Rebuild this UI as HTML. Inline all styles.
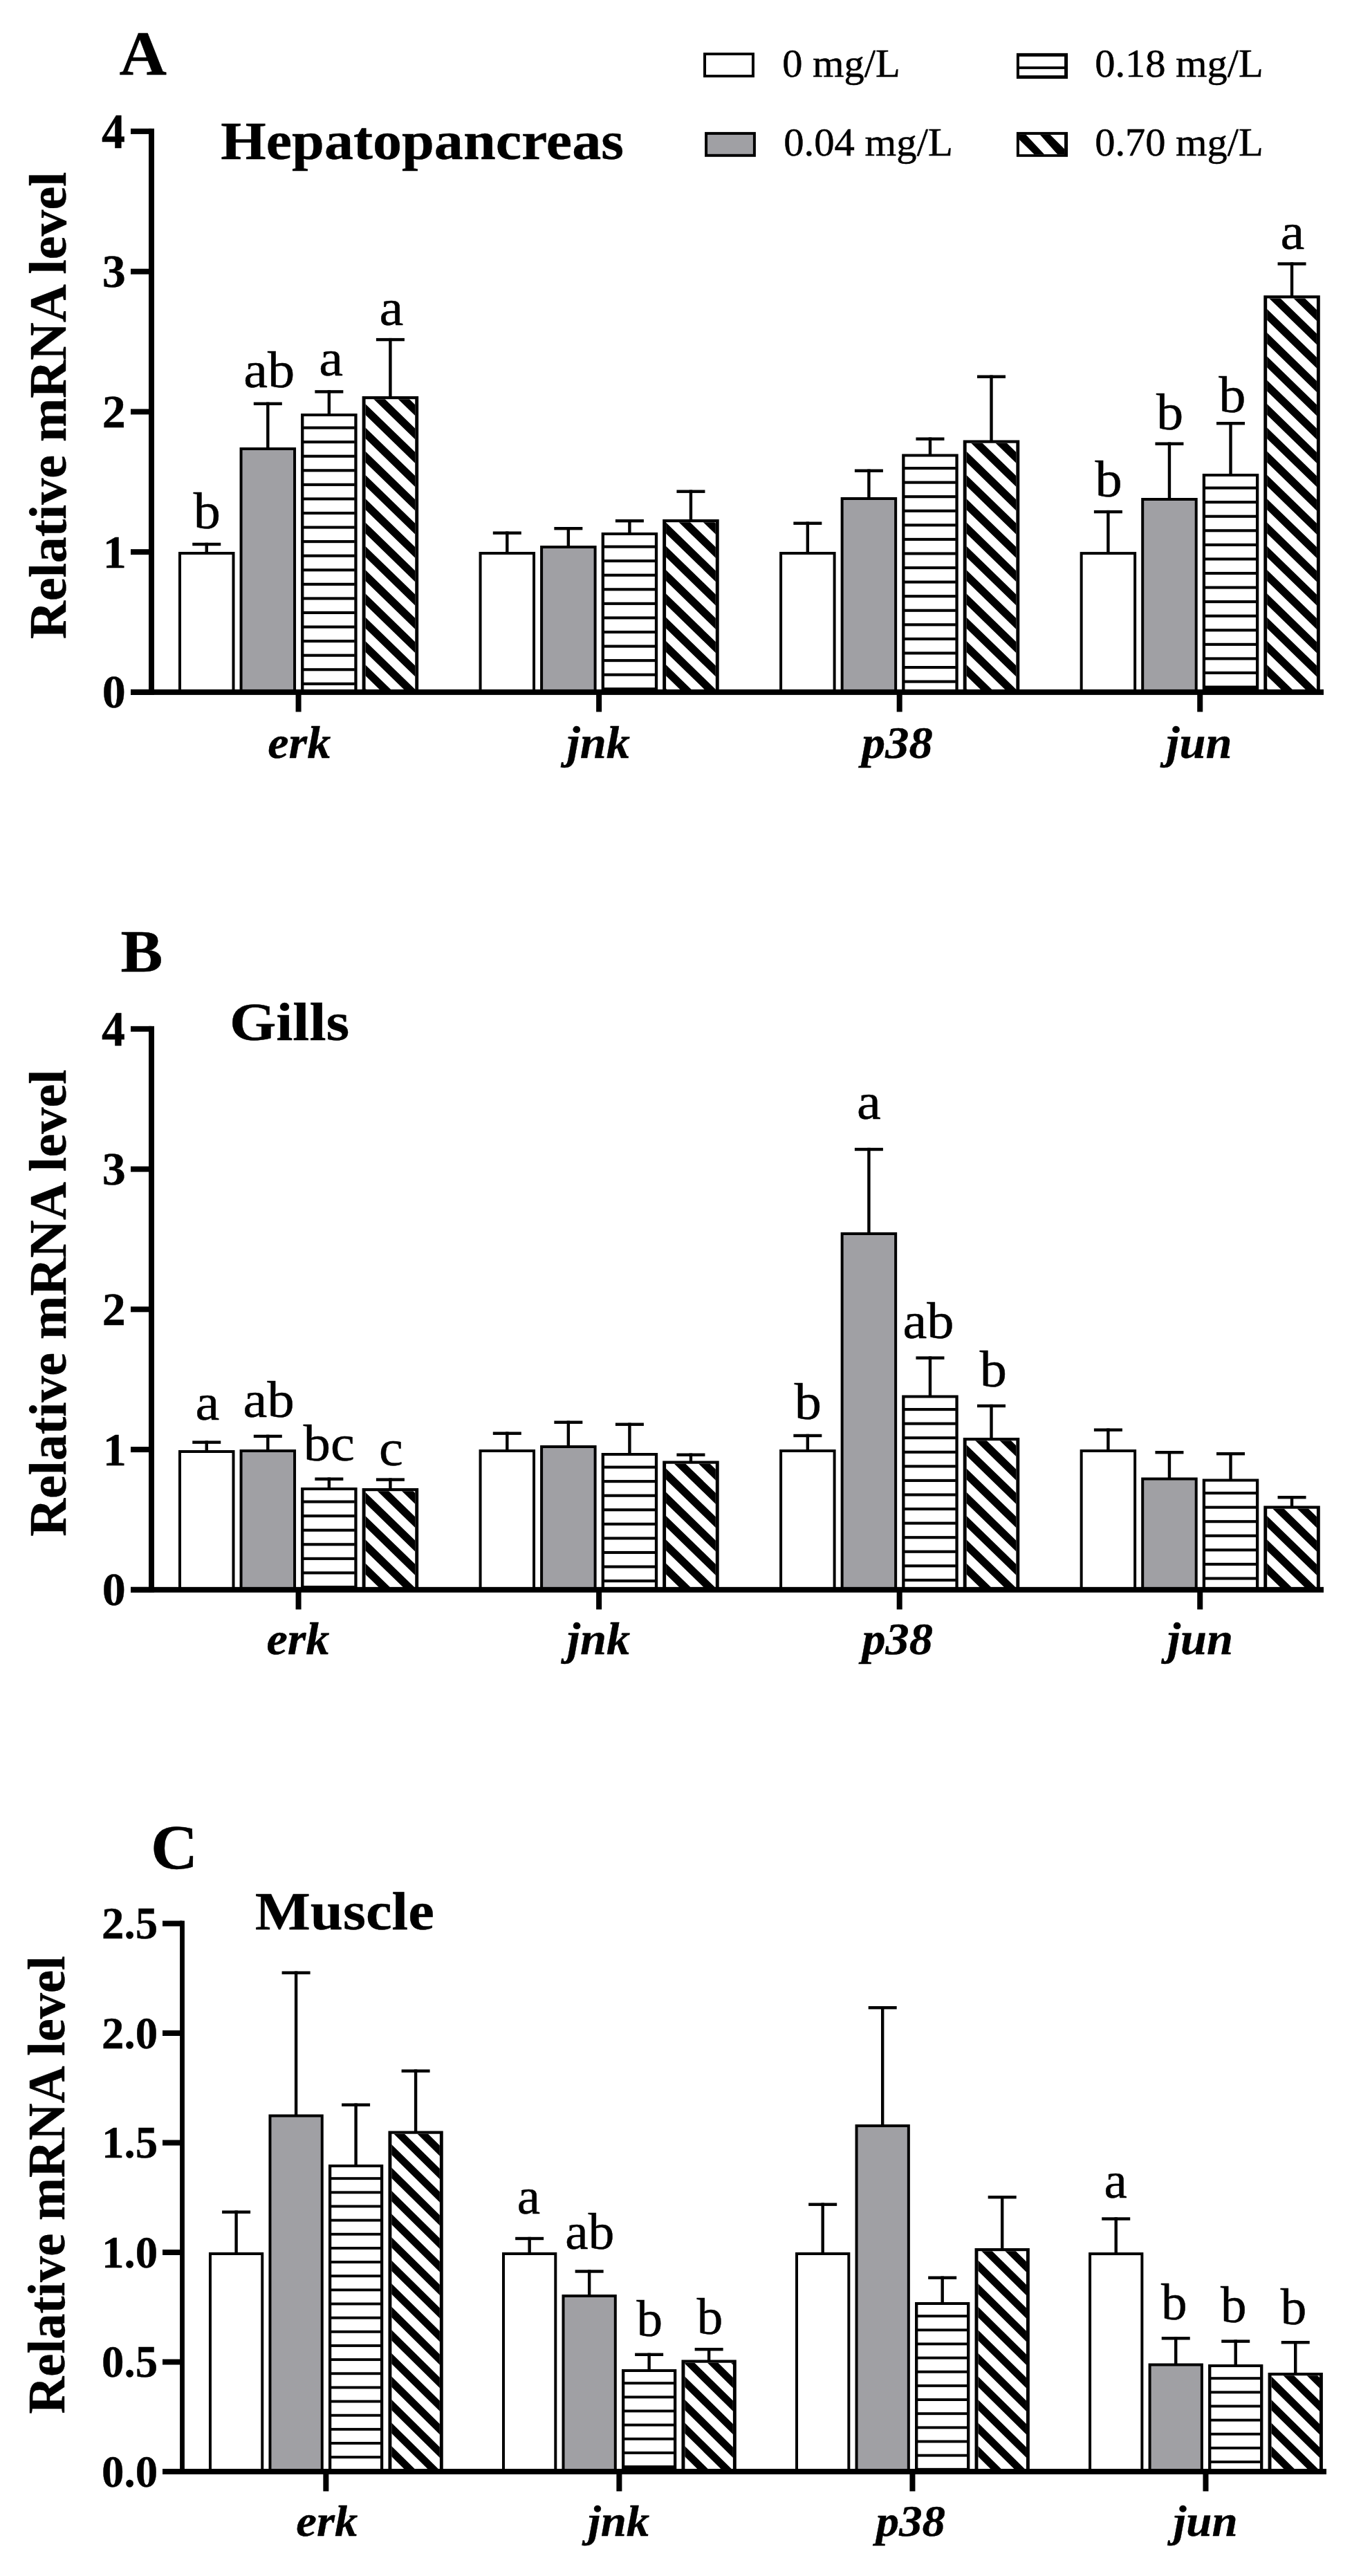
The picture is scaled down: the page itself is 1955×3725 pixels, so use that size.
<!DOCTYPE html>
<html><head><meta charset="utf-8"><title>Figure</title>
<style>html,body{margin:0;padding:0;background:#fff}svg{display:block}text{font-family:"Liberation Serif",serif;fill:#000}</style>
</head><body>
<svg width="1955" height="3725" viewBox="0 0 1955 3725">
<rect width="1955" height="3725" fill="#fff"/>
<rect x="296.55" y="784.80" width="4.40" height="15.20" fill="#000"/>
<rect x="278.25" y="784.80" width="41.00" height="4.40" fill="#000"/>
<rect x="258.00" y="798.00" width="81.50" height="202.90" fill="#000"/>
<rect x="262.00" y="802.00" width="73.50" height="198.90" fill="#fff"/>
<rect x="385.10" y="581.60" width="4.40" height="67.40" fill="#000"/>
<rect x="366.80" y="581.60" width="41.00" height="4.40" fill="#000"/>
<rect x="346.55" y="647.00" width="81.50" height="353.90" fill="#000"/>
<rect x="350.55" y="651.00" width="73.50" height="349.90" fill="#a0a0a4"/>
<rect x="473.65" y="564.20" width="4.40" height="35.80" fill="#000"/>
<rect x="455.35" y="564.20" width="41.00" height="4.40" fill="#000"/>
<rect x="435.10" y="598.00" width="81.50" height="402.90" fill="#000"/>
<rect x="439.40" y="602.00" width="72.90" height="398.90" fill="#fff"/>
<rect x="438.90" y="616.52" width="73.90" height="4.10" fill="#000"/>
<rect x="438.90" y="637.09" width="73.90" height="4.10" fill="#000"/>
<rect x="438.90" y="657.66" width="73.90" height="4.10" fill="#000"/>
<rect x="438.90" y="678.23" width="73.90" height="4.10" fill="#000"/>
<rect x="438.90" y="698.80" width="73.90" height="4.10" fill="#000"/>
<rect x="438.90" y="719.37" width="73.90" height="4.10" fill="#000"/>
<rect x="438.90" y="739.94" width="73.90" height="4.10" fill="#000"/>
<rect x="438.90" y="760.51" width="73.90" height="4.10" fill="#000"/>
<rect x="438.90" y="781.08" width="73.90" height="4.10" fill="#000"/>
<rect x="438.90" y="801.65" width="73.90" height="4.10" fill="#000"/>
<rect x="438.90" y="822.22" width="73.90" height="4.10" fill="#000"/>
<rect x="438.90" y="842.79" width="73.90" height="4.10" fill="#000"/>
<rect x="438.90" y="863.36" width="73.90" height="4.10" fill="#000"/>
<rect x="438.90" y="883.93" width="73.90" height="4.10" fill="#000"/>
<rect x="438.90" y="904.50" width="73.90" height="4.10" fill="#000"/>
<rect x="438.90" y="925.07" width="73.90" height="4.10" fill="#000"/>
<rect x="438.90" y="945.64" width="73.90" height="4.10" fill="#000"/>
<rect x="438.90" y="966.21" width="73.90" height="4.10" fill="#000"/>
<rect x="438.90" y="986.78" width="73.90" height="4.10" fill="#000"/>
<rect x="562.20" y="488.90" width="4.40" height="86.10" fill="#000"/>
<rect x="543.90" y="488.90" width="41.00" height="4.40" fill="#000"/>
<rect x="523.65" y="573.00" width="81.50" height="427.90" fill="#000"/>
<rect x="528.55" y="577.20" width="71.70" height="423.70" fill="#fff"/>
<svg x="528.55" y="577.20" width="71.70" height="423.70"><path d="M-1.00,-96.91L72.70,-25.35L72.70,-9.45L-1.00,-81.01ZM-1.00,-62.61L72.70,8.95L72.70,24.85L-1.00,-46.71ZM-1.00,-28.31L72.70,43.25L72.70,59.15L-1.00,-12.41ZM-1.00,5.99L72.70,77.55L72.70,93.45L-1.00,21.89ZM-1.00,40.29L72.70,111.85L72.70,127.75L-1.00,56.19ZM-1.00,74.59L72.70,146.15L72.70,162.05L-1.00,90.49ZM-1.00,108.89L72.70,180.45L72.70,196.35L-1.00,124.79ZM-1.00,143.19L72.70,214.75L72.70,230.65L-1.00,159.09ZM-1.00,177.49L72.70,249.05L72.70,264.95L-1.00,193.39ZM-1.00,211.79L72.70,283.35L72.70,299.25L-1.00,227.69ZM-1.00,246.09L72.70,317.65L72.70,333.55L-1.00,261.99ZM-1.00,280.39L72.70,351.95L72.70,367.85L-1.00,296.29ZM-1.00,314.69L72.70,386.25L72.70,402.15L-1.00,330.59ZM-1.00,348.99L72.70,420.55L72.70,436.45L-1.00,364.89ZM-1.00,383.29L72.70,454.85L72.70,470.75L-1.00,399.19ZM-1.00,417.59L72.70,489.15L72.70,505.05L-1.00,433.49ZM-1.00,451.89L72.70,523.45L72.70,539.35L-1.00,467.79Z"/></svg>
<rect x="731.10" y="768.50" width="4.40" height="31.50" fill="#000"/>
<rect x="712.80" y="768.50" width="41.00" height="4.40" fill="#000"/>
<rect x="692.55" y="798.00" width="81.50" height="202.90" fill="#000"/>
<rect x="696.55" y="802.00" width="73.50" height="198.90" fill="#fff"/>
<rect x="819.65" y="762.00" width="4.40" height="29.00" fill="#000"/>
<rect x="801.35" y="762.00" width="41.00" height="4.40" fill="#000"/>
<rect x="781.10" y="789.00" width="81.50" height="211.90" fill="#000"/>
<rect x="785.10" y="793.00" width="73.50" height="207.90" fill="#a0a0a4"/>
<rect x="908.20" y="751.00" width="4.40" height="21.00" fill="#000"/>
<rect x="889.90" y="751.00" width="41.00" height="4.40" fill="#000"/>
<rect x="869.65" y="770.00" width="81.50" height="230.90" fill="#000"/>
<rect x="873.95" y="774.00" width="72.90" height="226.90" fill="#fff"/>
<rect x="873.45" y="788.52" width="73.90" height="4.10" fill="#000"/>
<rect x="873.45" y="809.09" width="73.90" height="4.10" fill="#000"/>
<rect x="873.45" y="829.66" width="73.90" height="4.10" fill="#000"/>
<rect x="873.45" y="850.23" width="73.90" height="4.10" fill="#000"/>
<rect x="873.45" y="870.80" width="73.90" height="4.10" fill="#000"/>
<rect x="873.45" y="891.37" width="73.90" height="4.10" fill="#000"/>
<rect x="873.45" y="911.94" width="73.90" height="4.10" fill="#000"/>
<rect x="873.45" y="932.51" width="73.90" height="4.10" fill="#000"/>
<rect x="873.45" y="953.08" width="73.90" height="4.10" fill="#000"/>
<rect x="873.45" y="973.65" width="73.90" height="4.10" fill="#000"/>
<rect x="873.45" y="994.22" width="73.90" height="4.10" fill="#000"/>
<rect x="996.75" y="708.50" width="4.40" height="44.50" fill="#000"/>
<rect x="978.45" y="708.50" width="41.00" height="4.40" fill="#000"/>
<rect x="958.20" y="751.00" width="81.50" height="249.90" fill="#000"/>
<rect x="963.10" y="755.20" width="71.70" height="245.70" fill="#fff"/>
<svg x="963.10" y="755.20" width="71.70" height="245.70"><path d="M-1.00,-103.41L72.70,-31.85L72.70,-15.95L-1.00,-87.51ZM-1.00,-69.11L72.70,2.45L72.70,18.35L-1.00,-53.21ZM-1.00,-34.81L72.70,36.75L72.70,52.65L-1.00,-18.91ZM-1.00,-0.51L72.70,71.05L72.70,86.95L-1.00,15.39ZM-1.00,33.79L72.70,105.35L72.70,121.25L-1.00,49.69ZM-1.00,68.09L72.70,139.65L72.70,155.55L-1.00,83.99ZM-1.00,102.39L72.70,173.95L72.70,189.85L-1.00,118.29ZM-1.00,136.69L72.70,208.25L72.70,224.15L-1.00,152.59ZM-1.00,170.99L72.70,242.55L72.70,258.45L-1.00,186.89ZM-1.00,205.29L72.70,276.85L72.70,292.75L-1.00,221.19ZM-1.00,239.59L72.70,311.15L72.70,327.05L-1.00,255.49ZM-1.00,273.89L72.70,345.45L72.70,361.35L-1.00,289.79Z"/></svg>
<rect x="1165.65" y="754.50" width="4.40" height="45.50" fill="#000"/>
<rect x="1147.35" y="754.50" width="41.00" height="4.40" fill="#000"/>
<rect x="1127.10" y="798.00" width="81.50" height="202.90" fill="#000"/>
<rect x="1131.10" y="802.00" width="73.50" height="198.90" fill="#fff"/>
<rect x="1254.20" y="678.50" width="4.40" height="42.50" fill="#000"/>
<rect x="1235.90" y="678.50" width="41.00" height="4.40" fill="#000"/>
<rect x="1215.65" y="719.00" width="81.50" height="281.90" fill="#000"/>
<rect x="1219.65" y="723.00" width="73.50" height="277.90" fill="#a0a0a4"/>
<rect x="1342.75" y="632.50" width="4.40" height="26.00" fill="#000"/>
<rect x="1324.45" y="632.50" width="41.00" height="4.40" fill="#000"/>
<rect x="1304.20" y="656.50" width="81.50" height="344.40" fill="#000"/>
<rect x="1308.50" y="660.50" width="72.90" height="340.40" fill="#fff"/>
<rect x="1308.00" y="675.02" width="73.90" height="4.10" fill="#000"/>
<rect x="1308.00" y="695.59" width="73.90" height="4.10" fill="#000"/>
<rect x="1308.00" y="716.16" width="73.90" height="4.10" fill="#000"/>
<rect x="1308.00" y="736.73" width="73.90" height="4.10" fill="#000"/>
<rect x="1308.00" y="757.30" width="73.90" height="4.10" fill="#000"/>
<rect x="1308.00" y="777.87" width="73.90" height="4.10" fill="#000"/>
<rect x="1308.00" y="798.44" width="73.90" height="4.10" fill="#000"/>
<rect x="1308.00" y="819.01" width="73.90" height="4.10" fill="#000"/>
<rect x="1308.00" y="839.58" width="73.90" height="4.10" fill="#000"/>
<rect x="1308.00" y="860.15" width="73.90" height="4.10" fill="#000"/>
<rect x="1308.00" y="880.72" width="73.90" height="4.10" fill="#000"/>
<rect x="1308.00" y="901.29" width="73.90" height="4.10" fill="#000"/>
<rect x="1308.00" y="921.86" width="73.90" height="4.10" fill="#000"/>
<rect x="1308.00" y="942.43" width="73.90" height="4.10" fill="#000"/>
<rect x="1308.00" y="963.00" width="73.90" height="4.10" fill="#000"/>
<rect x="1308.00" y="983.57" width="73.90" height="4.10" fill="#000"/>
<rect x="1431.30" y="542.50" width="4.40" height="96.00" fill="#000"/>
<rect x="1413.00" y="542.50" width="41.00" height="4.40" fill="#000"/>
<rect x="1392.75" y="636.50" width="81.50" height="364.40" fill="#000"/>
<rect x="1397.65" y="640.70" width="71.70" height="360.20" fill="#fff"/>
<svg x="1397.65" y="640.70" width="71.70" height="360.20"><path d="M-1.00,-91.81L72.70,-20.25L72.70,-4.35L-1.00,-75.91ZM-1.00,-57.51L72.70,14.05L72.70,29.95L-1.00,-41.61ZM-1.00,-23.21L72.70,48.35L72.70,64.25L-1.00,-7.31ZM-1.00,11.09L72.70,82.65L72.70,98.55L-1.00,26.99ZM-1.00,45.39L72.70,116.95L72.70,132.85L-1.00,61.29ZM-1.00,79.69L72.70,151.25L72.70,167.15L-1.00,95.59ZM-1.00,113.99L72.70,185.55L72.70,201.45L-1.00,129.89ZM-1.00,148.29L72.70,219.85L72.70,235.75L-1.00,164.19ZM-1.00,182.59L72.70,254.15L72.70,270.05L-1.00,198.49ZM-1.00,216.89L72.70,288.45L72.70,304.35L-1.00,232.79ZM-1.00,251.19L72.70,322.75L72.70,338.65L-1.00,267.09ZM-1.00,285.49L72.70,357.05L72.70,372.95L-1.00,301.39ZM-1.00,319.79L72.70,391.35L72.70,407.25L-1.00,335.69ZM-1.00,354.09L72.70,425.65L72.70,441.55L-1.00,369.99ZM-1.00,388.39L72.70,459.95L72.70,475.85L-1.00,404.29Z"/></svg>
<rect x="1600.20" y="737.90" width="4.40" height="62.20" fill="#000"/>
<rect x="1581.90" y="737.90" width="41.00" height="4.40" fill="#000"/>
<rect x="1561.65" y="798.10" width="81.50" height="202.80" fill="#000"/>
<rect x="1565.65" y="802.10" width="73.50" height="198.80" fill="#fff"/>
<rect x="1688.75" y="639.50" width="4.40" height="82.50" fill="#000"/>
<rect x="1670.45" y="639.50" width="41.00" height="4.40" fill="#000"/>
<rect x="1650.20" y="720.00" width="81.50" height="280.90" fill="#000"/>
<rect x="1654.20" y="724.00" width="73.50" height="276.90" fill="#a0a0a4"/>
<rect x="1777.30" y="610.00" width="4.40" height="77.00" fill="#000"/>
<rect x="1759.00" y="610.00" width="41.00" height="4.40" fill="#000"/>
<rect x="1738.75" y="685.00" width="81.50" height="315.90" fill="#000"/>
<rect x="1743.05" y="689.00" width="72.90" height="311.90" fill="#fff"/>
<rect x="1742.55" y="703.52" width="73.90" height="4.10" fill="#000"/>
<rect x="1742.55" y="724.09" width="73.90" height="4.10" fill="#000"/>
<rect x="1742.55" y="744.66" width="73.90" height="4.10" fill="#000"/>
<rect x="1742.55" y="765.23" width="73.90" height="4.10" fill="#000"/>
<rect x="1742.55" y="785.80" width="73.90" height="4.10" fill="#000"/>
<rect x="1742.55" y="806.37" width="73.90" height="4.10" fill="#000"/>
<rect x="1742.55" y="826.94" width="73.90" height="4.10" fill="#000"/>
<rect x="1742.55" y="847.51" width="73.90" height="4.10" fill="#000"/>
<rect x="1742.55" y="868.08" width="73.90" height="4.10" fill="#000"/>
<rect x="1742.55" y="888.65" width="73.90" height="4.10" fill="#000"/>
<rect x="1742.55" y="909.22" width="73.90" height="4.10" fill="#000"/>
<rect x="1742.55" y="929.79" width="73.90" height="4.10" fill="#000"/>
<rect x="1742.55" y="950.36" width="73.90" height="4.10" fill="#000"/>
<rect x="1742.55" y="970.93" width="73.90" height="4.10" fill="#000"/>
<rect x="1742.55" y="991.50" width="73.90" height="7.10" fill="#000"/>
<rect x="1865.85" y="379.30" width="4.40" height="49.90" fill="#000"/>
<rect x="1847.55" y="379.30" width="41.00" height="4.40" fill="#000"/>
<rect x="1827.30" y="427.20" width="81.50" height="573.70" fill="#000"/>
<rect x="1832.20" y="431.40" width="71.70" height="569.50" fill="#fff"/>
<svg x="1832.20" y="431.40" width="71.70" height="569.50"><path d="M-1.00,-122.61L72.70,-51.05L72.70,-35.15L-1.00,-106.71ZM-1.00,-88.31L72.70,-16.75L72.70,-0.85L-1.00,-72.41ZM-1.00,-54.01L72.70,17.55L72.70,33.45L-1.00,-38.11ZM-1.00,-19.71L72.70,51.85L72.70,67.75L-1.00,-3.81ZM-1.00,14.59L72.70,86.15L72.70,102.05L-1.00,30.49ZM-1.00,48.89L72.70,120.45L72.70,136.35L-1.00,64.79ZM-1.00,83.19L72.70,154.75L72.70,170.65L-1.00,99.09ZM-1.00,117.49L72.70,189.05L72.70,204.95L-1.00,133.39ZM-1.00,151.79L72.70,223.35L72.70,239.25L-1.00,167.69ZM-1.00,186.09L72.70,257.65L72.70,273.55L-1.00,201.99ZM-1.00,220.39L72.70,291.95L72.70,307.85L-1.00,236.29ZM-1.00,254.69L72.70,326.25L72.70,342.15L-1.00,270.59ZM-1.00,288.99L72.70,360.55L72.70,376.45L-1.00,304.89ZM-1.00,323.29L72.70,394.85L72.70,410.75L-1.00,339.19ZM-1.00,357.59L72.70,429.15L72.70,445.05L-1.00,373.49ZM-1.00,391.89L72.70,463.45L72.70,479.35L-1.00,407.79ZM-1.00,426.19L72.70,497.75L72.70,513.65L-1.00,442.09ZM-1.00,460.49L72.70,532.05L72.70,547.95L-1.00,476.39ZM-1.00,494.79L72.70,566.35L72.70,582.25L-1.00,510.69ZM-1.00,529.09L72.70,600.65L72.70,616.55L-1.00,544.99ZM-1.00,563.39L72.70,634.95L72.70,650.85L-1.00,579.29ZM-1.00,597.69L72.70,669.25L72.70,685.15L-1.00,613.59Z"/></svg>
<rect x="215.00" y="185.90" width="8.00" height="819.00" fill="#000"/>
<rect x="189.00" y="996.90" width="1725.00" height="8.00" fill="#000"/>
<rect x="189.00" y="996.90" width="30.00" height="8.00" fill="#000"/>
<text transform="translate(147.72,1023.21) scale(1.0000,1.0000)" font-size="68" font-weight="bold" stroke="#000" stroke-width="0.4">0</text>
<rect x="189.00" y="794.15" width="30.00" height="8.00" fill="#000"/>
<text transform="translate(148.79,820.99) scale(1.0000,1.0000)" font-size="68" font-weight="bold" stroke="#000" stroke-width="0.4">1</text>
<rect x="189.00" y="591.40" width="30.00" height="8.00" fill="#000"/>
<text transform="translate(147.72,618.24) scale(1.0000,1.0000)" font-size="68" font-weight="bold" stroke="#000" stroke-width="0.4">2</text>
<rect x="189.00" y="388.65" width="30.00" height="8.00" fill="#000"/>
<text transform="translate(147.72,414.96) scale(1.0000,1.0000)" font-size="68" font-weight="bold" stroke="#000" stroke-width="0.4">3</text>
<rect x="189.00" y="185.90" width="30.00" height="8.00" fill="#000"/>
<text transform="translate(147.06,213.77) scale(1.0000,1.0450)" font-size="68" font-weight="bold" stroke="#000" stroke-width="0.4">4</text>
<rect x="427.57" y="1000.90" width="8.00" height="28.50" fill="#000"/>
<rect x="862.12" y="1000.90" width="8.00" height="28.50" fill="#000"/>
<rect x="1296.67" y="1000.90" width="8.00" height="28.50" fill="#000"/>
<rect x="1731.23" y="1000.90" width="8.00" height="28.50" fill="#000"/>
<text transform="translate(279.83,763.93) scale(1.0450,1.0000)" font-size="75" stroke="#000" stroke-width="0.5">b</text>
<text transform="translate(352.31,560.23) scale(1.0450,1.0000)" font-size="75" stroke="#000" stroke-width="0.5">ab</text>
<text transform="translate(461.28,542.53) scale(1.0450,1.0000)" font-size="75" stroke="#000" stroke-width="0.5">a</text>
<text transform="translate(548.43,470.23) scale(1.0450,1.0000)" font-size="75" stroke="#000" stroke-width="0.5">a</text>
<text transform="translate(1583.53,718.43) scale(1.0450,1.0000)" font-size="75" stroke="#000" stroke-width="0.5">b</text>
<text transform="translate(1671.88,620.63) scale(1.0450,1.0000)" font-size="75" stroke="#000" stroke-width="0.5">b</text>
<text transform="translate(1762.28,596.23) scale(1.0450,1.0000)" font-size="75" stroke="#000" stroke-width="0.5">b</text>
<text transform="translate(1851.48,360.13) scale(1.0450,1.0000)" font-size="75" stroke="#000" stroke-width="0.5">a</text>
<text transform="translate(387.20,1095.80) scale(1.0600,1.0000)" font-size="64.5" font-weight="bold" font-style="italic" stroke="#000" stroke-width="0.4">erk</text>
<text transform="translate(819.71,1095.80) scale(1.0600,1.0000)" font-size="64.5" font-weight="bold" font-style="italic" stroke="#000" stroke-width="0.4">jnk</text>
<text transform="translate(1246.09,1095.80) scale(1.0600,1.0000)" font-size="64.5" font-weight="bold" font-style="italic" stroke="#000" stroke-width="0.4">p38</text>
<text transform="translate(1686.57,1095.80) scale(1.0600,1.0000)" font-size="64.5" font-weight="bold" font-style="italic" stroke="#000" stroke-width="0.4">jun</text>
<rect x="296.55" y="2083.40" width="4.40" height="15.60" fill="#000"/>
<rect x="278.25" y="2083.40" width="41.00" height="4.40" fill="#000"/>
<rect x="258.00" y="2097.00" width="81.50" height="201.85" fill="#000"/>
<rect x="262.00" y="2101.00" width="73.50" height="197.85" fill="#fff"/>
<rect x="385.10" y="2074.70" width="4.40" height="23.30" fill="#000"/>
<rect x="366.80" y="2074.70" width="41.00" height="4.40" fill="#000"/>
<rect x="346.55" y="2096.00" width="81.50" height="202.85" fill="#000"/>
<rect x="350.55" y="2100.00" width="73.50" height="198.85" fill="#a0a0a4"/>
<rect x="473.65" y="2136.50" width="4.40" height="16.50" fill="#000"/>
<rect x="455.35" y="2136.50" width="41.00" height="4.40" fill="#000"/>
<rect x="435.10" y="2151.00" width="81.50" height="147.85" fill="#000"/>
<rect x="439.40" y="2155.00" width="72.90" height="143.85" fill="#fff"/>
<rect x="438.90" y="2169.52" width="73.90" height="4.10" fill="#000"/>
<rect x="438.90" y="2190.09" width="73.90" height="4.10" fill="#000"/>
<rect x="438.90" y="2210.66" width="73.90" height="4.10" fill="#000"/>
<rect x="438.90" y="2231.23" width="73.90" height="4.10" fill="#000"/>
<rect x="438.90" y="2251.80" width="73.90" height="4.10" fill="#000"/>
<rect x="438.90" y="2272.37" width="73.90" height="4.10" fill="#000"/>
<rect x="438.90" y="2292.94" width="73.90" height="4.10" fill="#000"/>
<rect x="562.20" y="2137.40" width="4.40" height="16.60" fill="#000"/>
<rect x="543.90" y="2137.40" width="41.00" height="4.40" fill="#000"/>
<rect x="523.65" y="2152.00" width="81.50" height="146.85" fill="#000"/>
<rect x="528.55" y="2156.20" width="71.70" height="142.65" fill="#fff"/>
<svg x="528.55" y="2156.20" width="71.70" height="142.65"><path d="M-1.00,-102.16L72.70,-30.60L72.70,-14.70L-1.00,-86.26ZM-1.00,-67.86L72.70,3.70L72.70,19.60L-1.00,-51.96ZM-1.00,-33.56L72.70,38.00L72.70,53.90L-1.00,-17.66ZM-1.00,0.74L72.70,72.30L72.70,88.20L-1.00,16.64ZM-1.00,35.04L72.70,106.60L72.70,122.50L-1.00,50.94ZM-1.00,69.34L72.70,140.90L72.70,156.80L-1.00,85.24ZM-1.00,103.64L72.70,175.20L72.70,191.10L-1.00,119.54ZM-1.00,137.94L72.70,209.50L72.70,225.40L-1.00,153.84ZM-1.00,172.24L72.70,243.80L72.70,259.70L-1.00,188.14Z"/></svg>
<rect x="731.10" y="2070.50" width="4.40" height="27.50" fill="#000"/>
<rect x="712.80" y="2070.50" width="41.00" height="4.40" fill="#000"/>
<rect x="692.55" y="2096.00" width="81.50" height="202.85" fill="#000"/>
<rect x="696.55" y="2100.00" width="73.50" height="198.85" fill="#fff"/>
<rect x="819.65" y="2054.50" width="4.40" height="37.50" fill="#000"/>
<rect x="801.35" y="2054.50" width="41.00" height="4.40" fill="#000"/>
<rect x="781.10" y="2090.00" width="81.50" height="208.85" fill="#000"/>
<rect x="785.10" y="2094.00" width="73.50" height="204.85" fill="#a0a0a4"/>
<rect x="908.20" y="2057.50" width="4.40" height="45.50" fill="#000"/>
<rect x="889.90" y="2057.50" width="41.00" height="4.40" fill="#000"/>
<rect x="869.65" y="2101.00" width="81.50" height="197.85" fill="#000"/>
<rect x="873.95" y="2105.00" width="72.90" height="193.85" fill="#fff"/>
<rect x="873.45" y="2119.52" width="73.90" height="4.10" fill="#000"/>
<rect x="873.45" y="2140.09" width="73.90" height="4.10" fill="#000"/>
<rect x="873.45" y="2160.66" width="73.90" height="4.10" fill="#000"/>
<rect x="873.45" y="2181.23" width="73.90" height="4.10" fill="#000"/>
<rect x="873.45" y="2201.80" width="73.90" height="4.10" fill="#000"/>
<rect x="873.45" y="2222.37" width="73.90" height="4.10" fill="#000"/>
<rect x="873.45" y="2242.94" width="73.90" height="4.10" fill="#000"/>
<rect x="873.45" y="2263.51" width="73.90" height="4.10" fill="#000"/>
<rect x="873.45" y="2284.08" width="73.90" height="4.10" fill="#000"/>
<rect x="996.75" y="2101.50" width="4.40" height="13.00" fill="#000"/>
<rect x="978.45" y="2101.50" width="41.00" height="4.40" fill="#000"/>
<rect x="958.20" y="2112.50" width="81.50" height="186.35" fill="#000"/>
<rect x="963.10" y="2116.70" width="71.70" height="182.15" fill="#fff"/>
<svg x="963.10" y="2116.70" width="71.70" height="182.15"><path d="M-1.00,-96.96L72.70,-25.40L72.70,-9.50L-1.00,-81.06ZM-1.00,-62.66L72.70,8.90L72.70,24.80L-1.00,-46.76ZM-1.00,-28.36L72.70,43.20L72.70,59.10L-1.00,-12.46ZM-1.00,5.94L72.70,77.50L72.70,93.40L-1.00,21.84ZM-1.00,40.24L72.70,111.80L72.70,127.70L-1.00,56.14ZM-1.00,74.54L72.70,146.10L72.70,162.00L-1.00,90.44ZM-1.00,108.84L72.70,180.40L72.70,196.30L-1.00,124.74ZM-1.00,143.14L72.70,214.70L72.70,230.60L-1.00,159.04ZM-1.00,177.44L72.70,249.00L72.70,264.90L-1.00,193.34ZM-1.00,211.74L72.70,283.30L72.70,299.20L-1.00,227.64Z"/></svg>
<rect x="1165.65" y="2073.80" width="4.40" height="24.20" fill="#000"/>
<rect x="1147.35" y="2073.80" width="41.00" height="4.40" fill="#000"/>
<rect x="1127.10" y="2096.00" width="81.50" height="202.85" fill="#000"/>
<rect x="1131.10" y="2100.00" width="73.50" height="198.85" fill="#fff"/>
<rect x="1254.20" y="1659.80" width="4.40" height="124.20" fill="#000"/>
<rect x="1235.90" y="1659.80" width="41.00" height="4.40" fill="#000"/>
<rect x="1215.65" y="1782.00" width="81.50" height="516.85" fill="#000"/>
<rect x="1219.65" y="1786.00" width="73.50" height="512.85" fill="#a0a0a4"/>
<rect x="1342.75" y="1961.40" width="4.40" height="58.10" fill="#000"/>
<rect x="1324.45" y="1961.40" width="41.00" height="4.40" fill="#000"/>
<rect x="1304.20" y="2017.50" width="81.50" height="281.35" fill="#000"/>
<rect x="1308.50" y="2021.50" width="72.90" height="277.35" fill="#fff"/>
<rect x="1308.00" y="2036.02" width="73.90" height="4.10" fill="#000"/>
<rect x="1308.00" y="2056.59" width="73.90" height="4.10" fill="#000"/>
<rect x="1308.00" y="2077.16" width="73.90" height="4.10" fill="#000"/>
<rect x="1308.00" y="2097.73" width="73.90" height="4.10" fill="#000"/>
<rect x="1308.00" y="2118.30" width="73.90" height="4.10" fill="#000"/>
<rect x="1308.00" y="2138.87" width="73.90" height="4.10" fill="#000"/>
<rect x="1308.00" y="2159.44" width="73.90" height="4.10" fill="#000"/>
<rect x="1308.00" y="2180.01" width="73.90" height="4.10" fill="#000"/>
<rect x="1308.00" y="2200.58" width="73.90" height="4.10" fill="#000"/>
<rect x="1308.00" y="2221.15" width="73.90" height="4.10" fill="#000"/>
<rect x="1308.00" y="2241.72" width="73.90" height="4.10" fill="#000"/>
<rect x="1308.00" y="2262.29" width="73.90" height="4.10" fill="#000"/>
<rect x="1308.00" y="2282.86" width="73.90" height="4.10" fill="#000"/>
<rect x="1431.30" y="2030.80" width="4.40" height="50.20" fill="#000"/>
<rect x="1413.00" y="2030.80" width="41.00" height="4.40" fill="#000"/>
<rect x="1392.75" y="2079.00" width="81.50" height="219.85" fill="#000"/>
<rect x="1397.65" y="2083.20" width="71.70" height="215.65" fill="#fff"/>
<svg x="1397.65" y="2083.20" width="71.70" height="215.65"><path d="M-1.00,-97.76L72.70,-26.20L72.70,-10.30L-1.00,-81.86ZM-1.00,-63.46L72.70,8.10L72.70,24.00L-1.00,-47.56ZM-1.00,-29.16L72.70,42.40L72.70,58.30L-1.00,-13.26ZM-1.00,5.14L72.70,76.70L72.70,92.60L-1.00,21.04ZM-1.00,39.44L72.70,111.00L72.70,126.90L-1.00,55.34ZM-1.00,73.74L72.70,145.30L72.70,161.20L-1.00,89.64ZM-1.00,108.04L72.70,179.60L72.70,195.50L-1.00,123.94ZM-1.00,142.34L72.70,213.90L72.70,229.80L-1.00,158.24ZM-1.00,176.64L72.70,248.20L72.70,264.10L-1.00,192.54ZM-1.00,210.94L72.70,282.50L72.70,298.40L-1.00,226.84ZM-1.00,245.24L72.70,316.80L72.70,332.70L-1.00,261.14Z"/></svg>
<rect x="1600.20" y="2065.50" width="4.40" height="32.50" fill="#000"/>
<rect x="1581.90" y="2065.50" width="41.00" height="4.40" fill="#000"/>
<rect x="1561.65" y="2096.00" width="81.50" height="202.85" fill="#000"/>
<rect x="1565.65" y="2100.00" width="73.50" height="198.85" fill="#fff"/>
<rect x="1688.75" y="2098.00" width="4.40" height="40.50" fill="#000"/>
<rect x="1670.45" y="2098.00" width="41.00" height="4.40" fill="#000"/>
<rect x="1650.20" y="2136.50" width="81.50" height="162.35" fill="#000"/>
<rect x="1654.20" y="2140.50" width="73.50" height="158.35" fill="#a0a0a4"/>
<rect x="1777.30" y="2100.00" width="4.40" height="40.50" fill="#000"/>
<rect x="1759.00" y="2100.00" width="41.00" height="4.40" fill="#000"/>
<rect x="1738.75" y="2138.50" width="81.50" height="160.35" fill="#000"/>
<rect x="1743.05" y="2142.50" width="72.90" height="156.35" fill="#fff"/>
<rect x="1742.55" y="2157.02" width="73.90" height="4.10" fill="#000"/>
<rect x="1742.55" y="2177.59" width="73.90" height="4.10" fill="#000"/>
<rect x="1742.55" y="2198.16" width="73.90" height="4.10" fill="#000"/>
<rect x="1742.55" y="2218.73" width="73.90" height="4.10" fill="#000"/>
<rect x="1742.55" y="2239.30" width="73.90" height="4.10" fill="#000"/>
<rect x="1742.55" y="2259.87" width="73.90" height="4.10" fill="#000"/>
<rect x="1742.55" y="2280.44" width="73.90" height="4.10" fill="#000"/>
<rect x="1865.85" y="2163.00" width="4.40" height="16.50" fill="#000"/>
<rect x="1847.55" y="2163.00" width="41.00" height="4.40" fill="#000"/>
<rect x="1827.30" y="2177.50" width="81.50" height="121.35" fill="#000"/>
<rect x="1832.20" y="2181.70" width="71.70" height="117.15" fill="#fff"/>
<svg x="1832.20" y="2181.70" width="71.70" height="117.15"><path d="M-1.00,-93.36L72.70,-21.80L72.70,-5.90L-1.00,-77.46ZM-1.00,-59.06L72.70,12.50L72.70,28.40L-1.00,-43.16ZM-1.00,-24.76L72.70,46.80L72.70,62.70L-1.00,-8.86ZM-1.00,9.54L72.70,81.10L72.70,97.00L-1.00,25.44ZM-1.00,43.84L72.70,115.40L72.70,131.30L-1.00,59.74ZM-1.00,78.14L72.70,149.70L72.70,165.60L-1.00,94.04ZM-1.00,112.44L72.70,184.00L72.70,199.90L-1.00,128.34ZM-1.00,146.74L72.70,218.30L72.70,234.20L-1.00,162.64Z"/></svg>
<rect x="215.00" y="1483.85" width="8.00" height="819.00" fill="#000"/>
<rect x="189.00" y="2294.85" width="1725.00" height="8.00" fill="#000"/>
<rect x="189.00" y="2294.85" width="30.00" height="8.00" fill="#000"/>
<text transform="translate(147.72,2321.16) scale(1.0000,1.0000)" font-size="68" font-weight="bold" stroke="#000" stroke-width="0.4">0</text>
<rect x="189.00" y="2092.10" width="30.00" height="8.00" fill="#000"/>
<text transform="translate(148.79,2118.94) scale(1.0000,1.0000)" font-size="68" font-weight="bold" stroke="#000" stroke-width="0.4">1</text>
<rect x="189.00" y="1889.35" width="30.00" height="8.00" fill="#000"/>
<text transform="translate(147.72,1916.19) scale(1.0000,1.0000)" font-size="68" font-weight="bold" stroke="#000" stroke-width="0.4">2</text>
<rect x="189.00" y="1686.60" width="30.00" height="8.00" fill="#000"/>
<text transform="translate(147.72,1712.91) scale(1.0000,1.0000)" font-size="68" font-weight="bold" stroke="#000" stroke-width="0.4">3</text>
<rect x="189.00" y="1483.85" width="30.00" height="8.00" fill="#000"/>
<text transform="translate(147.06,1511.72) scale(1.0000,1.0450)" font-size="68" font-weight="bold" stroke="#000" stroke-width="0.4">4</text>
<rect x="427.57" y="2298.85" width="8.00" height="28.50" fill="#000"/>
<rect x="862.12" y="2298.85" width="8.00" height="28.50" fill="#000"/>
<rect x="1296.67" y="2298.85" width="8.00" height="28.50" fill="#000"/>
<rect x="1731.23" y="2298.85" width="8.00" height="28.50" fill="#000"/>
<text transform="translate(282.53,2052.73) scale(1.0450,1.0000)" font-size="75" stroke="#000" stroke-width="0.5">a</text>
<text transform="translate(351.61,2049.13) scale(1.0450,1.0000)" font-size="75" stroke="#000" stroke-width="0.5">ab</text>
<text transform="translate(438.87,2111.53) scale(1.0450,1.0000)" font-size="75" stroke="#000" stroke-width="0.5">bc</text>
<text transform="translate(547.89,2119.33) scale(1.0450,1.0000)" font-size="75" stroke="#000" stroke-width="0.5">c</text>
<text transform="translate(1148.73,2052.13) scale(1.0450,1.0000)" font-size="75" stroke="#000" stroke-width="0.5">b</text>
<text transform="translate(1238.93,1618.43) scale(1.0450,1.0000)" font-size="75" stroke="#000" stroke-width="0.5">a</text>
<text transform="translate(1305.51,1934.93) scale(1.0450,1.0000)" font-size="75" stroke="#000" stroke-width="0.5">ab</text>
<text transform="translate(1416.83,2005.13) scale(1.0450,1.0000)" font-size="75" stroke="#000" stroke-width="0.5">b</text>
<text transform="translate(385.40,2392.10) scale(1.0600,1.0000)" font-size="64.5" font-weight="bold" font-style="italic" stroke="#000" stroke-width="0.4">erk</text>
<text transform="translate(819.91,2392.10) scale(1.0600,1.0000)" font-size="64.5" font-weight="bold" font-style="italic" stroke="#000" stroke-width="0.4">jnk</text>
<text transform="translate(1246.39,2392.10) scale(1.0600,1.0000)" font-size="64.5" font-weight="bold" font-style="italic" stroke="#000" stroke-width="0.4">p38</text>
<text transform="translate(1688.07,2392.10) scale(1.0600,1.0000)" font-size="64.5" font-weight="bold" font-style="italic" stroke="#000" stroke-width="0.4">jun</text>
<rect x="339.40" y="3196.50" width="4.40" height="62.50" fill="#000"/>
<rect x="321.10" y="3196.50" width="41.00" height="4.40" fill="#000"/>
<rect x="301.95" y="3257.00" width="79.30" height="317.00" fill="#000"/>
<rect x="305.95" y="3261.00" width="71.30" height="313.00" fill="#fff"/>
<rect x="425.90" y="2850.50" width="4.40" height="209.00" fill="#000"/>
<rect x="407.60" y="2850.50" width="41.00" height="4.40" fill="#000"/>
<rect x="388.45" y="3057.50" width="79.30" height="516.50" fill="#000"/>
<rect x="392.45" y="3061.50" width="71.30" height="512.50" fill="#a0a0a4"/>
<rect x="512.40" y="3041.50" width="4.40" height="90.50" fill="#000"/>
<rect x="494.10" y="3041.50" width="41.00" height="4.40" fill="#000"/>
<rect x="474.95" y="3130.00" width="79.30" height="444.00" fill="#000"/>
<rect x="479.25" y="3134.00" width="70.70" height="440.00" fill="#fff"/>
<rect x="478.75" y="3148.20" width="71.70" height="3.90" fill="#000"/>
<rect x="478.75" y="3168.35" width="71.70" height="3.90" fill="#000"/>
<rect x="478.75" y="3188.50" width="71.70" height="3.90" fill="#000"/>
<rect x="478.75" y="3208.65" width="71.70" height="3.90" fill="#000"/>
<rect x="478.75" y="3228.80" width="71.70" height="3.90" fill="#000"/>
<rect x="478.75" y="3248.95" width="71.70" height="3.90" fill="#000"/>
<rect x="478.75" y="3269.10" width="71.70" height="3.90" fill="#000"/>
<rect x="478.75" y="3289.25" width="71.70" height="3.90" fill="#000"/>
<rect x="478.75" y="3309.40" width="71.70" height="3.90" fill="#000"/>
<rect x="478.75" y="3329.55" width="71.70" height="3.90" fill="#000"/>
<rect x="478.75" y="3349.70" width="71.70" height="3.90" fill="#000"/>
<rect x="478.75" y="3369.85" width="71.70" height="3.90" fill="#000"/>
<rect x="478.75" y="3390.00" width="71.70" height="3.90" fill="#000"/>
<rect x="478.75" y="3410.15" width="71.70" height="3.90" fill="#000"/>
<rect x="478.75" y="3430.30" width="71.70" height="3.90" fill="#000"/>
<rect x="478.75" y="3450.45" width="71.70" height="3.90" fill="#000"/>
<rect x="478.75" y="3470.60" width="71.70" height="3.90" fill="#000"/>
<rect x="478.75" y="3490.75" width="71.70" height="3.90" fill="#000"/>
<rect x="478.75" y="3510.90" width="71.70" height="3.90" fill="#000"/>
<rect x="478.75" y="3531.05" width="71.70" height="3.90" fill="#000"/>
<rect x="478.75" y="3551.20" width="71.70" height="3.90" fill="#000"/>
<rect x="478.75" y="3571.35" width="71.70" height="3.90" fill="#000"/>
<rect x="598.90" y="2992.50" width="4.40" height="91.00" fill="#000"/>
<rect x="580.60" y="2992.50" width="41.00" height="4.40" fill="#000"/>
<rect x="561.45" y="3081.50" width="79.30" height="492.50" fill="#000"/>
<rect x="566.35" y="3085.70" width="69.50" height="488.30" fill="#fff"/>
<svg x="566.35" y="3085.70" width="69.50" height="488.30"><path d="M-1.00,-119.94L70.50,-49.51L70.50,-34.31L-1.00,-104.74ZM-1.00,-86.38L70.50,-15.95L70.50,-0.75L-1.00,-71.18ZM-1.00,-52.82L70.50,17.61L70.50,32.81L-1.00,-37.62ZM-1.00,-19.26L70.50,51.17L70.50,66.37L-1.00,-4.06ZM-1.00,14.30L70.50,84.73L70.50,99.93L-1.00,29.50ZM-1.00,47.86L70.50,118.29L70.50,133.49L-1.00,63.06ZM-1.00,81.42L70.50,151.85L70.50,167.05L-1.00,96.62ZM-1.00,114.98L70.50,185.41L70.50,200.61L-1.00,130.18ZM-1.00,148.54L70.50,218.97L70.50,234.17L-1.00,163.74ZM-1.00,182.10L70.50,252.53L70.50,267.73L-1.00,197.30ZM-1.00,215.66L70.50,286.09L70.50,301.29L-1.00,230.86ZM-1.00,249.22L70.50,319.65L70.50,334.85L-1.00,264.42ZM-1.00,282.78L70.50,353.21L70.50,368.41L-1.00,297.98ZM-1.00,316.34L70.50,386.77L70.50,401.97L-1.00,331.54ZM-1.00,349.90L70.50,420.33L70.50,435.53L-1.00,365.10ZM-1.00,383.46L70.50,453.89L70.50,469.09L-1.00,398.66ZM-1.00,417.02L70.50,487.45L70.50,502.65L-1.00,432.22ZM-1.00,450.58L70.50,521.01L70.50,536.21L-1.00,465.78ZM-1.00,484.14L70.50,554.57L70.50,569.77L-1.00,499.34ZM-1.00,517.70L70.50,588.13L70.50,603.33L-1.00,532.90Z"/></svg>
<rect x="763.44" y="3234.80" width="4.40" height="24.20" fill="#000"/>
<rect x="745.14" y="3234.80" width="41.00" height="4.40" fill="#000"/>
<rect x="725.99" y="3257.00" width="79.30" height="317.00" fill="#000"/>
<rect x="729.99" y="3261.00" width="71.30" height="313.00" fill="#fff"/>
<rect x="849.94" y="3282.30" width="4.40" height="37.70" fill="#000"/>
<rect x="831.64" y="3282.30" width="41.00" height="4.40" fill="#000"/>
<rect x="812.49" y="3318.00" width="79.30" height="256.00" fill="#000"/>
<rect x="816.49" y="3322.00" width="71.30" height="252.00" fill="#a0a0a4"/>
<rect x="936.44" y="3402.60" width="4.40" height="25.40" fill="#000"/>
<rect x="918.14" y="3402.60" width="41.00" height="4.40" fill="#000"/>
<rect x="898.99" y="3426.00" width="79.30" height="148.00" fill="#000"/>
<rect x="903.29" y="3430.00" width="70.70" height="144.00" fill="#fff"/>
<rect x="902.79" y="3444.20" width="71.70" height="3.90" fill="#000"/>
<rect x="902.79" y="3464.35" width="71.70" height="3.90" fill="#000"/>
<rect x="902.79" y="3484.50" width="71.70" height="3.90" fill="#000"/>
<rect x="902.79" y="3504.65" width="71.70" height="3.90" fill="#000"/>
<rect x="902.79" y="3524.80" width="71.70" height="3.90" fill="#000"/>
<rect x="902.79" y="3544.95" width="71.70" height="3.90" fill="#000"/>
<rect x="902.79" y="3565.10" width="71.70" height="6.90" fill="#000"/>
<rect x="1022.94" y="3395.00" width="4.40" height="19.50" fill="#000"/>
<rect x="1004.64" y="3395.00" width="41.00" height="4.40" fill="#000"/>
<rect x="985.49" y="3412.50" width="79.30" height="161.50" fill="#000"/>
<rect x="990.39" y="3416.70" width="69.50" height="157.30" fill="#fff"/>
<svg x="990.39" y="3416.70" width="69.50" height="157.30"><path d="M-1.00,-115.34L70.50,-44.91L70.50,-29.71L-1.00,-100.14ZM-1.00,-81.78L70.50,-11.35L70.50,3.85L-1.00,-66.58ZM-1.00,-48.22L70.50,22.21L70.50,37.41L-1.00,-33.02ZM-1.00,-14.66L70.50,55.77L70.50,70.97L-1.00,0.54ZM-1.00,18.90L70.50,89.33L70.50,104.53L-1.00,34.10ZM-1.00,52.46L70.50,122.89L70.50,138.09L-1.00,67.66ZM-1.00,86.02L70.50,156.45L70.50,171.65L-1.00,101.22ZM-1.00,119.58L70.50,190.01L70.50,205.21L-1.00,134.78ZM-1.00,153.14L70.50,223.57L70.50,238.77L-1.00,168.34ZM-1.00,186.70L70.50,257.13L70.50,272.33L-1.00,201.90Z"/></svg>
<rect x="1187.48" y="3185.50" width="4.40" height="73.50" fill="#000"/>
<rect x="1169.18" y="3185.50" width="41.00" height="4.40" fill="#000"/>
<rect x="1150.03" y="3257.00" width="79.30" height="317.00" fill="#000"/>
<rect x="1154.03" y="3261.00" width="71.30" height="313.00" fill="#fff"/>
<rect x="1273.98" y="2901.00" width="4.40" height="173.00" fill="#000"/>
<rect x="1255.68" y="2901.00" width="41.00" height="4.40" fill="#000"/>
<rect x="1236.53" y="3072.00" width="79.30" height="502.00" fill="#000"/>
<rect x="1240.53" y="3076.00" width="71.30" height="498.00" fill="#a0a0a4"/>
<rect x="1360.48" y="3291.50" width="4.40" height="39.50" fill="#000"/>
<rect x="1342.18" y="3291.50" width="41.00" height="4.40" fill="#000"/>
<rect x="1323.03" y="3329.00" width="79.30" height="245.00" fill="#000"/>
<rect x="1327.33" y="3333.00" width="70.70" height="241.00" fill="#fff"/>
<rect x="1326.83" y="3347.20" width="71.70" height="3.90" fill="#000"/>
<rect x="1326.83" y="3367.35" width="71.70" height="3.90" fill="#000"/>
<rect x="1326.83" y="3387.50" width="71.70" height="3.90" fill="#000"/>
<rect x="1326.83" y="3407.65" width="71.70" height="3.90" fill="#000"/>
<rect x="1326.83" y="3427.80" width="71.70" height="3.90" fill="#000"/>
<rect x="1326.83" y="3447.95" width="71.70" height="3.90" fill="#000"/>
<rect x="1326.83" y="3468.10" width="71.70" height="3.90" fill="#000"/>
<rect x="1326.83" y="3488.25" width="71.70" height="3.90" fill="#000"/>
<rect x="1326.83" y="3508.40" width="71.70" height="3.90" fill="#000"/>
<rect x="1326.83" y="3528.55" width="71.70" height="3.90" fill="#000"/>
<rect x="1326.83" y="3548.70" width="71.70" height="3.90" fill="#000"/>
<rect x="1326.83" y="3568.85" width="71.70" height="3.90" fill="#000"/>
<rect x="1446.98" y="3175.00" width="4.40" height="78.00" fill="#000"/>
<rect x="1428.68" y="3175.00" width="41.00" height="4.40" fill="#000"/>
<rect x="1409.53" y="3251.00" width="79.30" height="323.00" fill="#000"/>
<rect x="1414.43" y="3255.20" width="69.50" height="318.80" fill="#fff"/>
<svg x="1414.43" y="3255.20" width="69.50" height="318.80"><path d="M-1.00,-88.08L70.50,-17.65L70.50,-2.45L-1.00,-72.88ZM-1.00,-54.52L70.50,15.91L70.50,31.11L-1.00,-39.32ZM-1.00,-20.96L70.50,49.47L70.50,64.67L-1.00,-5.76ZM-1.00,12.60L70.50,83.03L70.50,98.23L-1.00,27.80ZM-1.00,46.16L70.50,116.59L70.50,131.79L-1.00,61.36ZM-1.00,79.72L70.50,150.15L70.50,165.35L-1.00,94.92ZM-1.00,113.28L70.50,183.71L70.50,198.91L-1.00,128.48ZM-1.00,146.84L70.50,217.27L70.50,232.47L-1.00,162.04ZM-1.00,180.40L70.50,250.83L70.50,266.03L-1.00,195.60ZM-1.00,213.96L70.50,284.39L70.50,299.59L-1.00,229.16ZM-1.00,247.52L70.50,317.95L70.50,333.15L-1.00,262.72ZM-1.00,281.08L70.50,351.51L70.50,366.71L-1.00,296.28ZM-1.00,314.64L70.50,385.07L70.50,400.27L-1.00,329.84ZM-1.00,348.20L70.50,418.63L70.50,433.83L-1.00,363.40Z"/></svg>
<rect x="1611.52" y="3206.30" width="4.40" height="52.80" fill="#000"/>
<rect x="1593.22" y="3206.30" width="41.00" height="4.40" fill="#000"/>
<rect x="1574.07" y="3257.10" width="79.30" height="316.90" fill="#000"/>
<rect x="1578.07" y="3261.10" width="71.30" height="312.90" fill="#fff"/>
<rect x="1698.02" y="3379.10" width="4.40" height="40.40" fill="#000"/>
<rect x="1679.72" y="3379.10" width="41.00" height="4.40" fill="#000"/>
<rect x="1660.57" y="3417.50" width="79.30" height="156.50" fill="#000"/>
<rect x="1664.57" y="3421.50" width="71.30" height="152.50" fill="#a0a0a4"/>
<rect x="1784.52" y="3383.40" width="4.40" height="37.60" fill="#000"/>
<rect x="1766.22" y="3383.40" width="41.00" height="4.40" fill="#000"/>
<rect x="1747.07" y="3419.00" width="79.30" height="155.00" fill="#000"/>
<rect x="1751.37" y="3423.00" width="70.70" height="151.00" fill="#fff"/>
<rect x="1750.87" y="3437.20" width="71.70" height="3.90" fill="#000"/>
<rect x="1750.87" y="3457.35" width="71.70" height="3.90" fill="#000"/>
<rect x="1750.87" y="3477.50" width="71.70" height="3.90" fill="#000"/>
<rect x="1750.87" y="3497.65" width="71.70" height="3.90" fill="#000"/>
<rect x="1750.87" y="3517.80" width="71.70" height="3.90" fill="#000"/>
<rect x="1750.87" y="3537.95" width="71.70" height="3.90" fill="#000"/>
<rect x="1750.87" y="3558.10" width="71.70" height="3.90" fill="#000"/>
<rect x="1871.02" y="3385.00" width="4.40" height="48.00" fill="#000"/>
<rect x="1852.72" y="3385.00" width="41.00" height="4.40" fill="#000"/>
<rect x="1833.57" y="3431.00" width="79.30" height="143.00" fill="#000"/>
<rect x="1838.47" y="3435.20" width="69.50" height="138.80" fill="#fff"/>
<svg x="1838.47" y="3435.20" width="69.50" height="138.80"><path d="M-1.00,-100.28L70.50,-29.85L70.50,-14.65L-1.00,-85.08ZM-1.00,-66.72L70.50,3.71L70.50,18.91L-1.00,-51.52ZM-1.00,-33.16L70.50,37.27L70.50,52.47L-1.00,-17.96ZM-1.00,0.40L70.50,70.83L70.50,86.03L-1.00,15.60ZM-1.00,33.96L70.50,104.39L70.50,119.59L-1.00,49.16ZM-1.00,67.52L70.50,137.95L70.50,153.15L-1.00,82.72ZM-1.00,101.08L70.50,171.51L70.50,186.71L-1.00,116.28ZM-1.00,134.64L70.50,205.07L70.50,220.27L-1.00,149.84ZM-1.00,168.20L70.50,238.63L70.50,253.83L-1.00,183.40Z"/></svg>
<rect x="260.10" y="2777.50" width="6.80" height="800.50" fill="#000"/>
<rect x="235.00" y="3570.00" width="1683.00" height="8.00" fill="#000"/>
<rect x="235.00" y="3570.00" width="28.50" height="8.00" fill="#000"/>
<text transform="translate(147.08,3595.82) scale(0.9750,1.0000)" font-size="66.5" font-weight="bold" stroke="#000" stroke-width="0.4">0.0</text>
<rect x="235.00" y="3411.50" width="28.50" height="8.00" fill="#000"/>
<text transform="translate(147.08,3437.32) scale(0.9750,1.0000)" font-size="66.5" font-weight="bold" stroke="#000" stroke-width="0.4">0.5</text>
<rect x="235.00" y="3253.00" width="28.50" height="8.00" fill="#000"/>
<text transform="translate(147.08,3278.82) scale(0.9750,1.0000)" font-size="66.5" font-weight="bold" stroke="#000" stroke-width="0.4">1.0</text>
<rect x="235.00" y="3094.50" width="28.50" height="8.00" fill="#000"/>
<text transform="translate(147.08,3120.32) scale(0.9750,1.0000)" font-size="66.5" font-weight="bold" stroke="#000" stroke-width="0.4">1.5</text>
<rect x="235.00" y="2936.00" width="28.50" height="8.00" fill="#000"/>
<text transform="translate(147.08,2961.82) scale(0.9750,1.0000)" font-size="66.5" font-weight="bold" stroke="#000" stroke-width="0.4">2.0</text>
<rect x="235.00" y="2777.50" width="28.50" height="8.00" fill="#000"/>
<text transform="translate(147.08,2803.32) scale(0.9750,1.0000)" font-size="66.5" font-weight="bold" stroke="#000" stroke-width="0.4">2.5</text>
<rect x="467.35" y="3574.00" width="8.00" height="28.50" fill="#000"/>
<rect x="891.39" y="3574.00" width="8.00" height="28.50" fill="#000"/>
<rect x="1315.43" y="3574.00" width="8.00" height="28.50" fill="#000"/>
<rect x="1739.47" y="3574.00" width="8.00" height="28.50" fill="#000"/>
<text transform="translate(747.65,3201.04) scale(1.0150,1.0000)" font-size="74" stroke="#000" stroke-width="0.5">a</text>
<text transform="translate(817.35,3251.64) scale(1.0150,1.0000)" font-size="74" stroke="#000" stroke-width="0.5">ab</text>
<text transform="translate(920.60,3378.44) scale(1.0150,1.0000)" font-size="74" stroke="#000" stroke-width="0.5">b</text>
<text transform="translate(1007.80,3374.74) scale(1.0150,1.0000)" font-size="74" stroke="#000" stroke-width="0.5">b</text>
<text transform="translate(1596.50,3177.84) scale(1.0150,1.0000)" font-size="74" stroke="#000" stroke-width="0.5">a</text>
<text transform="translate(1679.10,3354.34) scale(1.0150,1.0000)" font-size="74" stroke="#000" stroke-width="0.5">b</text>
<text transform="translate(1765.10,3358.34) scale(1.0150,1.0000)" font-size="74" stroke="#000" stroke-width="0.5">b</text>
<text transform="translate(1851.80,3360.54) scale(1.0150,1.0000)" font-size="74" stroke="#000" stroke-width="0.5">b</text>
<text transform="translate(428.27,3666.80) scale(1.0600,1.0000)" font-size="63" font-weight="bold" font-style="italic" stroke="#000" stroke-width="0.4">erk</text>
<text transform="translate(850.15,3666.80) scale(1.0600,1.0000)" font-size="63" font-weight="bold" font-style="italic" stroke="#000" stroke-width="0.4">jnk</text>
<text transform="translate(1266.82,3666.80) scale(1.0600,1.0000)" font-size="63" font-weight="bold" font-style="italic" stroke="#000" stroke-width="0.4">p38</text>
<text transform="translate(1696.73,3666.80) scale(1.0600,1.0000)" font-size="63" font-weight="bold" font-style="italic" stroke="#000" stroke-width="0.4">jun</text>
<text transform="translate(95.30,923.89) rotate(-90) scale(0.9868,1.0000)" font-size="77" font-weight="bold" stroke="#000" stroke-width="0.4">Relative mRNA level</text>
<text transform="translate(95.30,2221.84) rotate(-90) scale(0.9868,1.0000)" font-size="77" font-weight="bold" stroke="#000" stroke-width="0.4">Relative mRNA level</text>
<text transform="translate(93.20,3490.46) rotate(-90) scale(0.9912,1.0000)" font-size="75.2" font-weight="bold" stroke="#000" stroke-width="0.4">Relative mRNA level</text>
<text transform="translate(319.29,230.30) scale(1.0788,1.0000)" font-size="78" font-weight="bold" stroke="#000" stroke-width="0.4">Hepatopancreas</text>
<text transform="translate(331.94,1504.00) scale(1.1105,1.0000)" font-size="78" font-weight="bold" stroke="#000" stroke-width="0.4">Gills</text>
<text transform="translate(368.67,2790.00) scale(1.0878,1.0000)" font-size="78" font-weight="bold" stroke="#000" stroke-width="0.4">Muscle</text>
<text transform="translate(172.50,107.60) scale(1.0528,1.0000)" font-size="90" font-weight="bold" stroke="#000" stroke-width="0.4">A</text>
<text transform="translate(174.57,1405.00) scale(1.0605,1.0000)" font-size="86" font-weight="bold" stroke="#000" stroke-width="0.4">B</text>
<text transform="translate(218.08,2701.50) scale(1.0484,1.0000)" font-size="90" font-weight="bold" stroke="#000" stroke-width="0.4">C</text>
<rect x="1017.04" y="76.15" width="73.91" height="35.75" fill="#000"/>
<rect x="1021.04" y="79.95" width="65.91" height="28.15" fill="#fff"/>
<rect x="1019.08" y="190.90" width="73.82" height="35.90" fill="#000"/>
<rect x="1023.08" y="194.90" width="65.82" height="27.90" fill="#a0a0a4"/>
<rect x="1469.90" y="76.86" width="74.15" height="37.00" fill="#000"/>
<rect x="1473.90" y="81.76" width="65.15" height="27.20" fill="#fff"/>
<rect x="1472.00" y="96.10" width="70.00" height="3.80" fill="#000"/>
<rect x="1469.90" y="190.90" width="74.15" height="35.90" fill="#000"/>
<rect x="1473.90" y="194.90" width="65.15" height="28.20" fill="#fff"/>
<path d="M1473.9,194.9 L1483.7,194.9 L1509.9,223.1 L1495.3,223.1 L1473.9,202Z M1504.1,194.9 L1518.8,194.9 L1539.05,215.3 L1539.05,223.1 L1529,223.1Z"/>
<text transform="translate(1131.17,111.30) scale(1.0176,1.0000)" font-size="57.5" stroke="#000" stroke-width="0.5">0 mg/L</text>
<text transform="translate(1133.16,224.80) scale(1.0213,1.0000)" font-size="57.5" stroke="#000" stroke-width="0.5">0.04 mg/L</text>
<text transform="translate(1583.17,111.30) scale(1.0170,1.0000)" font-size="57.5" stroke="#000" stroke-width="0.5">0.18 mg/L</text>
<text transform="translate(1583.17,224.80) scale(1.0170,1.0000)" font-size="57.5" stroke="#000" stroke-width="0.5">0.70 mg/L</text>
</svg>
</body></html>
